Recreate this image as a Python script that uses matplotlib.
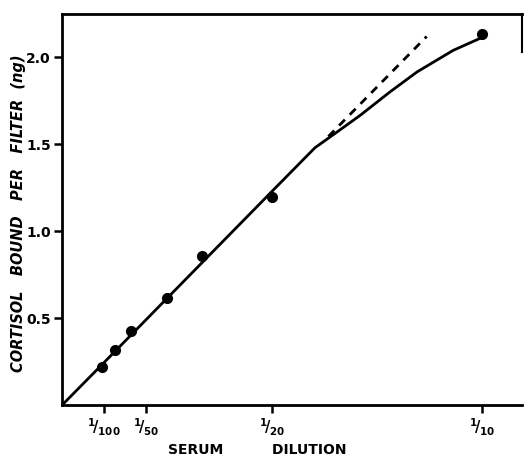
import numpy as np
import matplotlib.pyplot as plt

# serum concentration (1/dilution) and cortisol bound (ng)
dil_x = [0.0095, 0.0126, 0.0164, 0.0249, 0.0333, 0.050, 0.1000]
bound_y = [0.22, 0.316, 0.425, 0.617, 0.856, 1.197, 2.136]

# fitted curve drawn by hand
curve_x = [0.0, 0.010, 0.050, 0.0602, 0.066, 0.071, 0.078, 0.0845, 0.0931, 0.1005]
curve_y = [0.0, 0.245, 1.23, 1.48, 1.58, 1.667, 1.80, 1.916, 2.04, 2.12]

# extrapolated linear part
dash_x = [0.0634, 0.0868]
dash_y = [1.545, 2.12]

tick_pos = [0.01, 0.02, 0.05, 0.10]
tick_lab = [r'$^{1}\!/_{100}$', r'$^{1}\!/_{50}$', r'$^{1}\!/_{20}$', r'$^{1}\!/_{10}$']
ytick_pos = [0.5, 1.0, 1.5, 2.0]
ytick_lab = ['0.5', '1.0', '1.5', '2.0']

plt.rcParams['mathtext.default'] = 'bf'

fig = plt.figure(figsize=(5.3, 4.62), dpi=100)
ax = fig.add_axes([0.117, 0.123, 0.868, 0.847])

ax.plot(curve_x, curve_y, color='black', lw=2)
ax.plot(dash_x, dash_y, color='black', lw=2, ls=(0, (3, 2.5)))
ax.plot(dil_x, bound_y, 'o', color='black', ms=7)

ax.set_xlim(0, 0.1095)
ax.set_ylim(0, 2.25)

ax.set_xticks(tick_pos)
ax.set_xticklabels(tick_lab, fontsize=10.5, fontweight='bold')
ax.set_yticks(ytick_pos)
ax.set_yticklabels(ytick_lab, fontsize=10, fontweight='bold')
ax.tick_params(axis='both', direction='out', length=6, width=1.8, color='black', pad=2)

for s in ['left', 'bottom', 'top']:
    ax.spines[s].set_linewidth(2)
ax.spines['right'].set_linewidth(1.5)
ax.spines['right'].set_bounds(2.03, 2.25)

ax.set_ylabel('CORTISOL   BOUND   PER   FILTER  (ng)', fontsize=10.5,
              fontweight='bold', style='italic')
ax.yaxis.set_label_coords(-0.078, 0.49)
fig.text(0.485, 0.018, 'SERUM          DILUTION', fontsize=10,
         fontweight='bold', ha='center')

fig.savefig('out.png', dpi=100)
